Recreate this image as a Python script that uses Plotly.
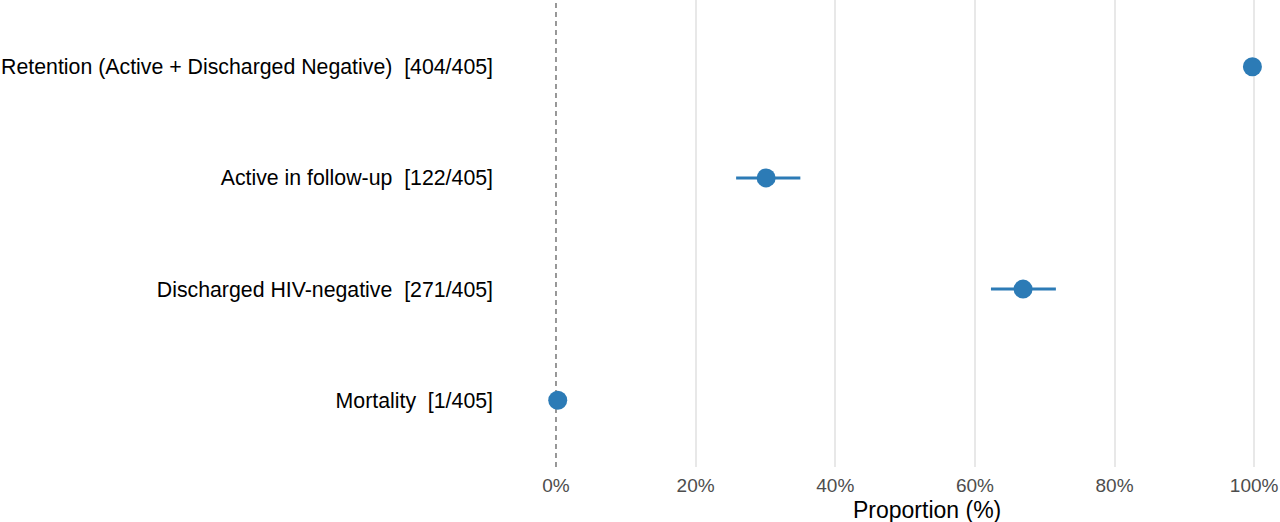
import plotly.graph_objects as go

categories = ["Retention (Active + Discharged Negative)", "Active in follow-up",
              "Discharged HIV-negative", "Mortality"]
counts = [404, 122, 271, 1]
totals = [405, 405, 405, 405]
proportion = [99.75, 30.1, 66.9, 0.25]
ci_low = [98.6, 25.8, 62.3, 0.04]
ci_high = [99.96, 35.0, 71.6, 1.39]
x_ticks = [0, 20, 40, 60, 80, 100]
x_tick_labels = ["0%", "20%", "40%", "60%", "80%", "100%"]
grid_ticks = [20, 40, 60, 80, 100]

labels = [f"{c}\u00a0\u00a0[{n}/{t}]" for c, n, t in zip(categories, counts, totals)]
color = "#2C7BB6"
x_range = [-8.02, 103.7]

fig = go.Figure()
fig.add_trace(go.Scatter(
    x=proportion, y=labels, mode="markers",
    marker=dict(size=19, color=color),
    error_x=dict(type="data", symmetric=False,
                 array=[h - p for h, p in zip(ci_high, proportion)],
                 arrayminus=[p - l for p, l in zip(proportion, ci_low)],
                 width=0, thickness=3, color=color),
    showlegend=False, hoverinfo="skip",
))

fig.add_shape(type="line", xref="x", yref="paper", x0=0, x1=0, y0=0, y1=1,
              line=dict(color="#7F7F7F", width=1.6, dash="5px,4px"), layer="below")

fig.update_layout(
    width=1280, height=522,
    margin=dict(l=500, r=0, t=0, b=55),
    plot_bgcolor="white", paper_bgcolor="white",
    font=dict(family="Liberation Sans, Arial, sans-serif"),
    xaxis=dict(range=x_range, tickvals=x_ticks, ticktext=x_tick_labels,
               showgrid=False, zeroline=False,
               showline=False, ticks="", tickfont=dict(size=19, color="#4D4D4D"),
               ticklabelstandoff=5),
    xaxis2=dict(range=x_range, overlaying="x", side="bottom", tickvals=grid_ticks,
                showticklabels=False, showgrid=True, gridcolor="#E8E8E8", gridwidth=1.8,
                zeroline=False, showline=False, ticks="", layer="below traces"),
    yaxis=dict(type="category", range=[3.6, -0.6], showgrid=False, zeroline=False,
               showline=False, ticks="", tickfont=dict(size=21.3, color="black"),
               ticklabelstandoff=6),
    annotations=[dict(text="Proportion (%)", xref="paper", yref="paper",
                      x=(927 - 500) / 780, y=0, yshift=-43, showarrow=False,
                      xanchor="center", yanchor="middle",
                      font=dict(size=23, color="black"))],
)
# invisible trace so the grid-only axis is drawn
fig.add_trace(go.Scatter(x=[None], y=[None], xaxis="x2", yaxis="y",
                         showlegend=False, hoverinfo="skip"))

fig.write_html("out.html", config={"displayModeBar": False},
               post_script="document.body.style.margin='0';")
